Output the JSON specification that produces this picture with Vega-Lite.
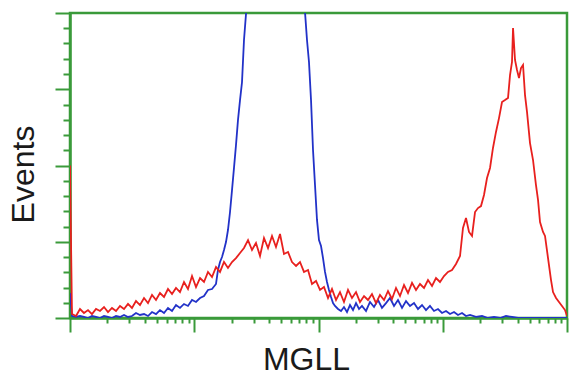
{
  "$schema": "https://vega.github.io/schema/vega-lite/v6.json",
  "width": 497,
  "height": 305,
  "autosize": "none",
  "padding": {"left": 70, "top": 13, "right": 4, "bottom": 58},
  "background": "white",
  "config": {"view": {"stroke": "#3a9a3a", "strokeWidth": 2.5}},
  "datasets": {
    "control": [
      {"channel": 0, "events": 16.4}, {"channel": 4.1, "events": 1.3}, {"channel": 12.4, "events": 0.7}, {"channel": 20.6, "events": 1.3},
      {"channel": 28.8, "events": 0.7}, {"channel": 37.1, "events": 0}, {"channel": 45.3, "events": 1.3}, {"channel": 53.6, "events": 0.7},
      {"channel": 61.8, "events": 0}, {"channel": 70.1, "events": 1.3}, {"channel": 78.3, "events": 0.7}, {"channel": 86.5, "events": 0},
      {"channel": 94.8, "events": 1.3}, {"channel": 103.0, "events": 0.7}, {"channel": 111.3, "events": 2.0}, {"channel": 119.5, "events": 0.7},
      {"channel": 127.7, "events": 1.3}, {"channel": 136.0, "events": 3.3}, {"channel": 144.2, "events": 2.0}, {"channel": 152.5, "events": 2.6},
      {"channel": 160.7, "events": 1.3}, {"channel": 169.0, "events": 3.9}, {"channel": 177.2, "events": 2.6}, {"channel": 185.4, "events": 5.2},
      {"channel": 193.7, "events": 3.3}, {"channel": 201.9, "events": 6.6}, {"channel": 210.2, "events": 4.6}, {"channel": 218.4, "events": 8.5},
      {"channel": 226.6, "events": 6.6}, {"channel": 234.9, "events": 9.2}, {"channel": 243.1, "events": 7.9}, {"channel": 251.4, "events": 11.8},
      {"channel": 259.6, "events": 10.5}, {"channel": 267.9, "events": 13.1}, {"channel": 276.1, "events": 14.4}, {"channel": 284.3, "events": 18.4},
      {"channel": 292.6, "events": 19.0}, {"channel": 300.8, "events": 22.3}, {"channel": 304.9, "events": 31.5}, {"channel": 309.1, "events": 36.7},
      {"channel": 313.2, "events": 40.0}, {"channel": 317.3, "events": 44.6}, {"channel": 321.4, "events": 49.8}, {"channel": 325.5, "events": 57.7},
      {"channel": 329.7, "events": 69.5}, {"channel": 333.8, "events": 83.9}, {"channel": 337.9, "events": 98.4}, {"channel": 342.0, "events": 113.4},
      {"channel": 346.1, "events": 129.8}, {"channel": 350.3, "events": 142.9}, {"channel": 354.4, "events": 154.7}, {"channel": 358.5, "events": 182.3},
      {"channel": 362.6, "events": 199.3}, {"channel": 366.8, "events": 221.6}, {"channel": 381.2, "events": 306.9}, {"channel": 401.8, "events": 372.4},
      {"channel": 422.4, "events": 392.1}, {"channel": 443.0, "events": 372.4}, {"channel": 463.6, "events": 306.9}, {"channel": 478.0, "events": 221.6},
      {"channel": 484.2, "events": 200.6}, {"channel": 488.3, "events": 182.3}, {"channel": 492.4, "events": 167.9}, {"channel": 496.6, "events": 142.9},
      {"channel": 500.7, "events": 110.2}, {"channel": 504.8, "events": 87.2}, {"channel": 508.9, "events": 64.3}, {"channel": 513.0, "events": 51.1},
      {"channel": 517.2, "events": 47.2}, {"channel": 521.3, "events": 39.3}, {"channel": 525.4, "events": 30.2}, {"channel": 529.5, "events": 23.6},
      {"channel": 533.6, "events": 18.4}, {"channel": 537.8, "events": 13.8}, {"channel": 541.9, "events": 9.8}, {"channel": 546.0, "events": 7.9},
      {"channel": 552.2, "events": 5.9}, {"channel": 558.4, "events": 4.6}, {"channel": 564.5, "events": 7.2}, {"channel": 570.7, "events": 3.9},
      {"channel": 576.9, "events": 8.5}, {"channel": 583.1, "events": 5.2}, {"channel": 589.3, "events": 9.8}, {"channel": 595.5, "events": 5.9},
      {"channel": 601.6, "events": 7.9}, {"channel": 609.9, "events": 4.6}, {"channel": 618.1, "events": 10.5}, {"channel": 626.4, "events": 7.2},
      {"channel": 634.6, "events": 11.8}, {"channel": 642.8, "events": 6.6}, {"channel": 651.1, "events": 9.8}, {"channel": 659.3, "events": 13.1},
      {"channel": 667.6, "events": 7.9}, {"channel": 675.8, "events": 11.8}, {"channel": 684.1, "events": 6.6}, {"channel": 692.3, "events": 11.1},
      {"channel": 700.5, "events": 7.9}, {"channel": 708.8, "events": 9.8}, {"channel": 717.0, "events": 5.9}, {"channel": 725.3, "events": 8.5},
      {"channel": 733.5, "events": 5.2}, {"channel": 741.7, "events": 7.9}, {"channel": 750.0, "events": 4.6}, {"channel": 758.2, "events": 5.9},
      {"channel": 766.5, "events": 3.3}, {"channel": 774.7, "events": 4.6}, {"channel": 783.0, "events": 2.6}, {"channel": 791.2, "events": 3.9},
      {"channel": 799.4, "events": 2.0}, {"channel": 807.7, "events": 3.3}, {"channel": 815.9, "events": 1.3}, {"channel": 824.2, "events": 2.0},
      {"channel": 836.5, "events": 0.7}, {"channel": 848.9, "events": 1.3}, {"channel": 861.3, "events": 0}, {"channel": 873.6, "events": 0.7},
      {"channel": 886.0, "events": 0}, {"channel": 898.3, "events": 1.3}, {"channel": 910.7, "events": 0.7}, {"channel": 923.1, "events": 0},
      {"channel": 935.4, "events": 0}, {"channel": 947.8, "events": 0}, {"channel": 968.4, "events": 0}, {"channel": 989.0, "events": 0},
      {"channel": 1009.6, "events": 0}, {"channel": 1024, "events": 0}
    ],
    "mgll": [
      {"channel": 0, "events": 100}, {"channel": 4.1, "events": 2.6}, {"channel": 12.4, "events": 1.3}, {"channel": 20.6, "events": 5.9},
      {"channel": 28.8, "events": 3.3}, {"channel": 37.1, "events": 5.2}, {"channel": 45.3, "events": 2.6}, {"channel": 53.6, "events": 5.9},
      {"channel": 61.8, "events": 4.6}, {"channel": 70.1, "events": 7.2}, {"channel": 78.3, "events": 3.9}, {"channel": 86.5, "events": 6.6},
      {"channel": 94.8, "events": 4.6}, {"channel": 103.0, "events": 7.9}, {"channel": 111.3, "events": 5.9}, {"channel": 119.5, "events": 9.2},
      {"channel": 127.7, "events": 6.6}, {"channel": 136.0, "events": 11.1}, {"channel": 144.2, "events": 8.5}, {"channel": 152.5, "events": 13.1},
      {"channel": 160.7, "events": 9.8}, {"channel": 169.0, "events": 15.1}, {"channel": 177.2, "events": 11.8}, {"channel": 185.4, "events": 16.4},
      {"channel": 193.7, "events": 13.8}, {"channel": 201.9, "events": 19.0}, {"channel": 210.2, "events": 15.7}, {"channel": 218.4, "events": 19.7},
      {"channel": 226.6, "events": 17.0}, {"channel": 234.9, "events": 23.6}, {"channel": 243.1, "events": 19.0}, {"channel": 251.4, "events": 27.5},
      {"channel": 259.6, "events": 20.3}, {"channel": 267.9, "events": 26.2}, {"channel": 276.1, "events": 23.6}, {"channel": 284.3, "events": 30.2},
      {"channel": 292.6, "events": 26.9}, {"channel": 300.8, "events": 33.4}, {"channel": 309.1, "events": 30.2}, {"channel": 317.3, "events": 36.7},
      {"channel": 325.5, "events": 32.8}, {"channel": 333.8, "events": 36.7}, {"channel": 342.0, "events": 39.3}, {"channel": 350.3, "events": 42.6},
      {"channel": 358.5, "events": 45.9}, {"channel": 366.8, "events": 51.1}, {"channel": 375.0, "events": 44.6}, {"channel": 383.2, "events": 49.2},
      {"channel": 391.5, "events": 40.7}, {"channel": 399.7, "events": 52.5}, {"channel": 408.0, "events": 45.9}, {"channel": 416.2, "events": 53.8},
      {"channel": 424.4, "events": 46.6}, {"channel": 432.7, "events": 55.1}, {"channel": 440.9, "events": 42.0}, {"channel": 449.2, "events": 43.3},
      {"channel": 457.4, "events": 36.7}, {"channel": 465.7, "events": 34.1}, {"channel": 473.9, "events": 36.7}, {"channel": 482.1, "events": 30.2},
      {"channel": 490.4, "events": 31.5}, {"channel": 498.6, "events": 22.3}, {"channel": 506.9, "events": 24.3}, {"channel": 515.1, "events": 18.4},
      {"channel": 523.3, "events": 20.3}, {"channel": 531.6, "events": 13.1}, {"channel": 539.8, "events": 19.0}, {"channel": 548.1, "events": 11.8},
      {"channel": 556.3, "events": 17.0}, {"channel": 564.5, "events": 10.5}, {"channel": 572.8, "events": 18.4}, {"channel": 581.0, "events": 13.1},
      {"channel": 589.3, "events": 17.0}, {"channel": 597.5, "events": 10.5}, {"channel": 605.8, "events": 14.4}, {"channel": 614.0, "events": 11.8},
      {"channel": 622.2, "events": 15.7}, {"channel": 630.5, "events": 9.8}, {"channel": 638.7, "events": 15.1}, {"channel": 647.0, "events": 11.8},
      {"channel": 655.2, "events": 17.7}, {"channel": 663.4, "events": 12.5}, {"channel": 671.7, "events": 19.7}, {"channel": 679.9, "events": 14.4},
      {"channel": 688.2, "events": 21.6}, {"channel": 696.4, "events": 16.4}, {"channel": 704.7, "events": 23.0}, {"channel": 712.9, "events": 18.4},
      {"channel": 721.1, "events": 22.3}, {"channel": 729.4, "events": 19.7}, {"channel": 737.6, "events": 24.9}, {"channel": 745.9, "events": 21.0},
      {"channel": 754.1, "events": 26.2}, {"channel": 762.3, "events": 23.6}, {"channel": 770.6, "events": 27.5}, {"channel": 778.8, "events": 30.2},
      {"channel": 787.1, "events": 31.5}, {"channel": 795.3, "events": 35.4}, {"channel": 803.6, "events": 40.7}, {"channel": 809.7, "events": 59.0},
      {"channel": 815.9, "events": 65.6}, {"channel": 822.1, "events": 56.4}, {"channel": 828.3, "events": 53.8}, {"channel": 834.5, "events": 69.5},
      {"channel": 840.6, "events": 72.1}, {"channel": 846.8, "events": 73.4}, {"channel": 853.0, "events": 80.7}, {"channel": 859.2, "events": 91.8},
      {"channel": 865.4, "events": 98.4}, {"channel": 871.5, "events": 111.5}, {"channel": 877.7, "events": 122.0}, {"channel": 883.9, "events": 131.1},
      {"channel": 890.1, "events": 141.6}, {"channel": 896.3, "events": 142.9}, {"channel": 902.5, "events": 144.3}, {"channel": 906.6, "events": 159.3},
      {"channel": 910.7, "events": 167.9}, {"channel": 912.8, "events": 190.2}, {"channel": 916.9, "events": 169.2}, {"channel": 921.0, "events": 162.6},
      {"channel": 925.1, "events": 157.4}, {"channel": 929.2, "events": 163.9}, {"channel": 933.4, "events": 165.9}, {"channel": 937.5, "events": 146.2},
      {"channel": 941.6, "events": 135.1}, {"channel": 947.8, "events": 114.7}, {"channel": 954.0, "events": 103.6}, {"channel": 960.1, "events": 87.2},
      {"channel": 964.3, "events": 77.4}, {"channel": 968.4, "events": 62.9}, {"channel": 974.6, "events": 56.4}, {"channel": 978.7, "events": 53.8},
      {"channel": 984.9, "events": 39.3}, {"channel": 991.1, "events": 24.9}, {"channel": 995.2, "events": 17.0}, {"channel": 1001.4, "events": 13.1},
      {"channel": 1007.5, "events": 10.5}, {"channel": 1013.7, "events": 7.9}, {"channel": 1019.9, "events": 5.2}, {"channel": 1024, "events": 1.3}
    ]
  },
  "encoding": {
    "x": {
      "field": "channel", "type": "quantitative",
      "scale": {"domain": [0, 1024], "nice": false, "zero": false},
      "axis": {
        "title": "MGLL",
        "values": [0, 77.06, 122.14, 154.13, 178.94, 199.21, 216.35, 231.19, 244.29,
                   256, 333.06, 378.14, 410.13, 434.94, 455.21, 472.35, 487.19, 500.29,
                   512, 589.06, 634.14, 666.13, 690.94, 711.21, 728.35, 743.19, 756.29,
                   768, 845.06, 890.14, 922.13, 946.94, 967.21, 984.35, 999.19, 1012.29, 1024],
        "labels": false, "grid": false,
        "domainColor": "#3a9a3a", "domainWidth": 2.5,
        "tickColor": "#3a9a3a", "tickWidth": 2,
        "tickSize": {"condition": {"test": "datum.value % 256 === 0", "value": 14}, "value": 5},
        "titleFont": "Liberation Sans", "titleFontSize": 32, "titleFontWeight": "normal", "titleColor": "#1a1a1a",
        "titleX": 236, "titleY": 51, "titleBaseline": "alphabetic", "titleAlign": "center"
      }
    },
    "y": {
      "field": "events", "type": "quantitative",
      "scale": {"domain": [0, 200], "nice": false},
      "axis": {
        "title": "Events",
        "values": [0, 10, 20, 30, 40, 50, 60, 70, 80, 90, 100, 110, 120, 130, 140, 150, 160, 170, 180, 190, 200],
        "labels": false, "grid": false,
        "domainColor": "#3a9a3a", "domainWidth": 2.5,
        "tickColor": "#3a9a3a", "tickWidth": 2,
        "tickSize": {"condition": {"test": "datum.value % 50 === 0", "value": 15}, "value": 7},
        "titleFont": "Liberation Sans", "titleFontSize": 32, "titleFontWeight": "normal", "titleColor": "#1a1a1a",
        "titleX": -37, "titleY": 161, "titleBaseline": "alphabetic", "titleAlign": "center", "titleAngle": 270
      }
    }
  },
  "layer": [
    {
      "data": {"name": "control"},
      "mark": {"type": "line", "clip": true, "strokeWidth": 1.8, "color": "#2232c8"}
    },
    {
      "data": {"name": "mgll"},
      "mark": {"type": "line", "clip": true, "strokeWidth": 1.8, "color": "#e8201e"}
    }
  ]
}
